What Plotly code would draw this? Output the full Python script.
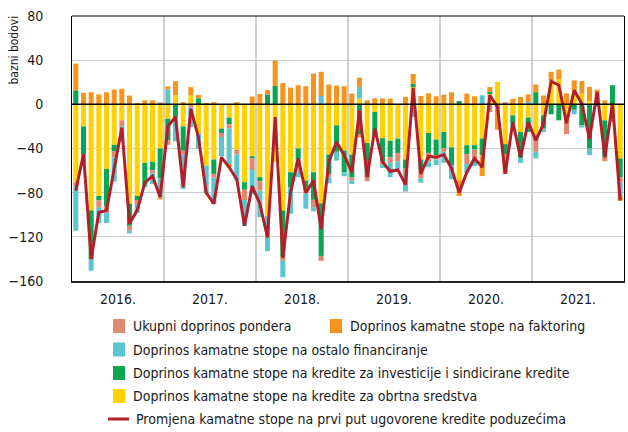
import plotly.graph_objects as go

FONT = "Liberation Sans Narrow, Arial Narrow, DejaVu Sans Condensed, sans-serif"

years = ["2016.", "2017.", "2018.", "2019.", "2020.", "2021."]
months = [f"{y[:4]}-{m:02d}" for y in years for m in range(1, 13)]

# Doprinos kamatne stope na kredite za obrtna sredstva
obrtna = [
    -70.6, -20, -96, -83, -58.5, -36.7, -14.5, -90, -83, -53, -52, -40,
    -13, 8, -20, 8, -26.7, -55.5, -50, -22, -12, -41, -70.6, -47,
    -66, -101, -52.4, -96, -61.5, -40, -69, -61.5, -89.7, -45.5, -19, -41.8,
    -45.5, 5.2, -35, -7, -30.6, -33, -31, -50, 15.5, -50, -26, -32,
    -25, -39, -69, -37, -37, -31, 9.7, 20.3, -36, -10, -25, -12,
    -27, -10, 21.8, 23, -12, 12.7, 9.7, 3, 5, -14.5, -10, -49,
]
# Doprinos kamatne stope na kredite za investicije i sindicirane kredite
investicije = [
    12.7, -25, -44, -4, -34, -5.8, 0, -20, -3.6, -20, -7.6, -27,
    -19.7, -11.5, -22, 0, 5.5, 0, -13, -4, -6, 0, -6.7, -2,
    -3.6, 8.8, 16.7, -42, -13.6, -10, -6.7, -25, -47.6, -17.6, -24, -19.7,
    -20.6, -27, -31, -20.6, -21, -15, -13, -8, 3, -9, -18, -14,
    -15, -16, 3, -8, -4, -15, 1.5, 0, -9, -7, -23, -13,
    11, -12, -9, -14.5, 0, -5, -19, -40, 0, -33, 17.3, -17,
]
# Ukupni doprinos pondera
ponder = [
    -3.6, 0, 0, -6.7, -6, -5.5, -5.5, -4.5, -4, 0, -3, 1.8,
    -4, 0, -3.6, -3, 0, 0, -3.3, -3.6, -4, -4.5, -9.4, -10.6,
    -8.5, 0, 0, -3.6, 0, -10, -4.8, -6.7, -4.5, -2.4, 0, 0,
    -3, -3, -3.6, 0, -3, -5, -8, -6, 0, -8, -8, -4,
    -3, 0, 0, -9, -10, 0, -7, 0, 2, 0, 0, 0,
    -16, 0, 0, 0, -15, 0, 0, 0, 0, -4, -6, -5,
]
# Doprinos kamatne stope na ostalo financiranje
ostalo = [
    -40.3, -8, -10.6, -14, -9, -22, -14, -2.4, -7.6, -2, -9.7, -17,
    13.6, -22, -31, -17.6, -13.6, -25, -24, -17.6, -32, -23.6, -23, -22,
    -24, -32, 0, -15, -24, -6, -14, -3.6, 7.6, -6, -8, -3.6,
    -3, 10.6, 0, 0, -3, -13, -7, -15, -11.5, -4, -5, -5,
    -10, -13, 0, -8, -5, 8.2, 0, 0, 0, -4, -5, 2,
    -6, -3, 0, 0, 0, -4, -2, -6, -2, 0, 0, -12,
]
# Doprinos kamatne stope na faktoring
faktoring = [
    24.2, 10.3, 10.9, 9, 10.9, 13.3, 14, 7.9, 0.6, 3.6, 3.6, -2,
    2.7, 13, 2, 7.6, 3, 1, 2, 0, -3, 2, 0, 7,
    9.4, 4.2, 22.7, 19.4, 15.2, 17.3, 16.4, 27.9, 21.8, 17.9, 17, 16.4,
    9.7, 8.4, 3.6, 5.5, 5.3, 5.2, 0, 6.7, 9, 7.6, 10, 7.3,
    8.8, 11, -14, 9.7, 7.3, -19, 4.6, -23, -18, 5, 6.7, 7,
    7, 8, 7.6, 8.5, 10, 9, 11.5, 12.8, 8.3, 3.6, 0, -4,
]
# Promjena kamatne stope na prvi put ugovorene kredite poduzećima
promjena = [
    -78, -45, -140, -98, -96, -57, -21, -108, -96, -71, -65, -84,
    -20, -11.5, -75, -4, -30, -80, -90, -48, -57, -68, -110, -74,
    -90, -120.6, -11.5, -139, -80, -49, -80, -69, -113, -52, -34, -46,
    -61.5, -5.5, -66, -22, -52, -60.6, -59.4, -72.7, 15, -63, -47, -48,
    -45.5, -58, -80, -61.5, -49, -57, 8.2, -2.4, -63, -16, -48, -16,
    -32.7, -17.6, 20.9, 17.3, -17, 12.7, 0.6, -31.2, 11.2, -47.9, 1.2, -87.3,
]

labels = {
    "ponder": "Ukupni doprinos pondera",
    "faktoring": "Doprinos kamatne stope na faktoring",
    "ostalo": "Doprinos kamatne stope na ostalo financiranje",
    "investicije": "Doprinos kamatne stope na kredite za investicije i sindicirane kredite",
    "obrtna": "Doprinos kamatne stope na kredite za obrtna sredstva",
    "promjena": "Promjena kamatne stope na prvi put ugovorene kredite poduzećima",
}
colors = {
    "obrtna": "#FFD200",
    "investicije": "#0AA650",
    "ponder": "#DC8B70",
    "ostalo": "#5CC6D0",
    "faktoring": "#F7941D",
    "promjena": "#B21F2B",
}

x = list(range(len(months)))

fig = go.Figure()
for key, vals in [("obrtna", obrtna), ("investicije", investicije), ("ponder", ponder),
                  ("ostalo", ostalo), ("faktoring", faktoring)]:
    fig.add_trace(go.Bar(x=x, y=vals, name=labels[key], marker_color=colors[key],
                         marker_line_width=0, customdata=months))
fig.add_trace(go.Scatter(x=x, y=promjena, name=labels["promjena"], mode="lines",
                         line=dict(color=colors["promjena"], width=3)))

L, R, T, B = 72, 624, 16, 281
W, H = R - L, B - T
def px(xp):
    return (xp - L) / W
def py(yp):
    return (B - yp) / H

shapes = [
    dict(type="line", xref="paper", yref="y", x0=0, x1=1, y0=0, y1=0,
         line=dict(color="black", width=1.5), layer="above"),
    dict(type="line", xref="paper", yref="paper", x0=0, x1=1, y0=1, y1=1,
         line=dict(color="black", width=1), layer="above"),
]
annotations = [
    dict(text="bazni bodovi", textangle=-90, xref="paper", yref="paper",
         x=px(13), y=py(14), xanchor="center", yanchor="top", showarrow=False,
         font=dict(size=12)),
]

legend_items = [
    ("ponder", 113, 326, "box"), ("faktoring", 330, 326, "box"),
    ("ostalo", 113, 349.5, "box"), ("investicije", 113, 373, "box"),
    ("obrtna", 113, 396, "box"), ("promjena", 108, 419, "line"),
]
for key, sx, sy, kind in legend_items:
    if kind == "box":
        shapes.append(dict(type="rect", xref="paper", yref="paper",
                           x0=px(sx), x1=px(sx + 12), y0=py(sy - 7), y1=py(sy + 7),
                           fillcolor=colors[key], line=dict(width=0)))
        tx = sx + 18
    else:
        shapes.append(dict(type="line", xref="paper", yref="paper",
                           x0=px(sx), x1=px(sx + 21), y0=py(sy), y1=py(sy),
                           line=dict(color=colors[key], width=3)))
        tx = sx + 26
    annotations.append(dict(text=labels[key], xref="paper", yref="paper",
                            x=px(tx), y=py(sy), xanchor="left", yanchor="middle",
                            showarrow=False, font=dict(size=14)))

fig.update_layout(
    width=628, height=432,
    margin=dict(l=L, r=628 - R, t=T, b=432 - B, autoexpand=False),
    plot_bgcolor="white", paper_bgcolor="white",
    barmode="relative", bargap=0.34, showlegend=False,
    font=dict(family=FONT, size=14, color="#1a1a1a"),
    shapes=shapes, annotations=annotations,
    xaxis=dict(range=[-0.5, len(months) - 0.5],
               tickvals=[i * 12 + 5.5 for i in range(len(years))], ticktext=years,
               ticks="", showgrid=False, zeroline=False,
               showline=True, linecolor="#222", linewidth=2,
               ticklabelstandoff=4,
               minor=dict(tickvals=[i * 12 - 0.5 for i in range(1, len(years))],
                          showgrid=True, gridcolor="#d0d0d0", gridwidth=1.5, ticks="")),
    yaxis=dict(range=[-160, 80], tick0=0, dtick=40, ticks="",
               showgrid=True, gridcolor="#cccccc", gridwidth=1, zeroline=False,
               showline=True, mirror=True, linecolor="black", linewidth=1,
               ticklabelstandoff=25),
)

fig.write_html(
    "out.html",
    config={"displayModeBar": False},
    post_script="document.body.style.margin='0';document.body.style.padding='0';"
                "document.documentElement.style.overflow='hidden';",
)
